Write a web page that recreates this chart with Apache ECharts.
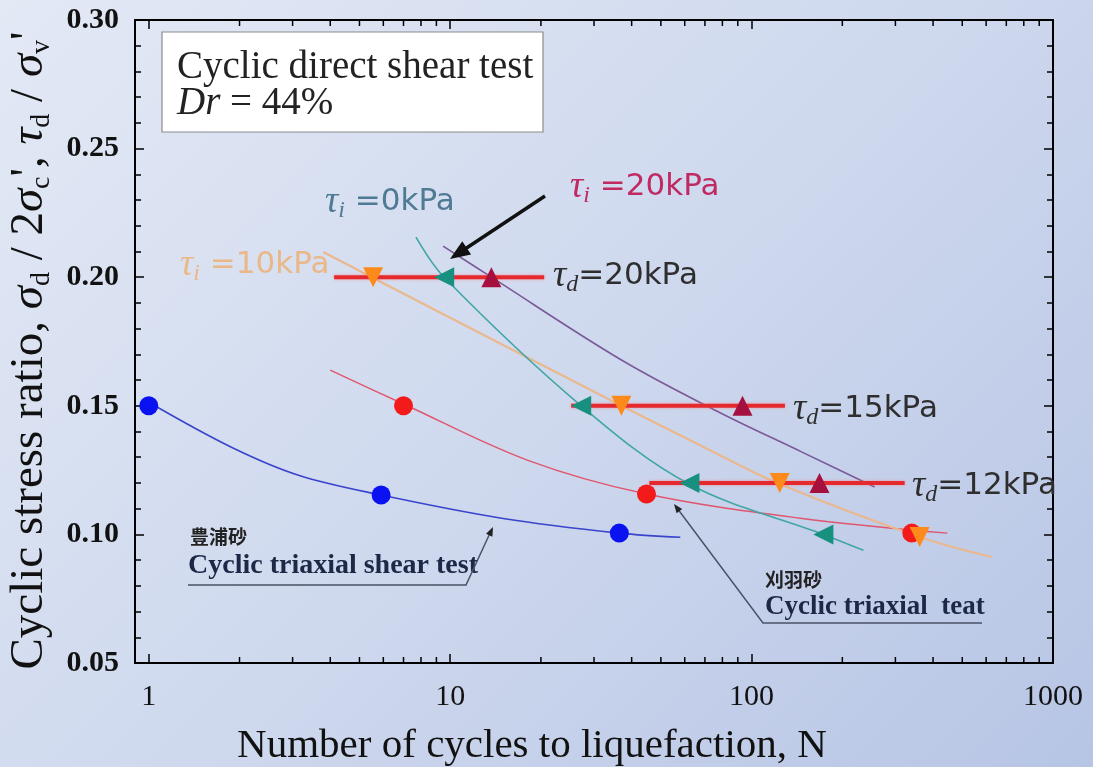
<!DOCTYPE html>
<html><head><meta charset="utf-8">
<script src="https://cdn.jsdelivr.net/npm/echarts@6/dist/echarts.min.js"></script>
<style>
html,body{margin:0;padding:0;}
#c{width:1093px;height:767px;background:linear-gradient(135deg,#e3e9f5 0%,#cfd9ee 50%,#b7c5e5 100%);}
</style>
</head><body><div id="c"></div>
<script>
// ---------- data ----------
const xTickLabels = ['1', '10', '100', '1000'];
const minorTicksN = [2,3,4,5,6,7,8,9,20,30,40,50,60,70,80,90,200,300,400,500,600,700,800,900];

// Toyoura sand, cyclic triaxial shear test (blue)
const toyouraN   = [1.0, 5.9, 36.4];
const toyouraCSR = [0.150, 0.1153, 0.1005];
const toyouraCurveN   = [1.02, 1.88, 3.14, 5.9, 14.8, 36.4, 58];
const toyouraCurveCSR = [0.1508, 0.1339, 0.1230, 0.1153, 0.1063, 0.1005, 0.0989];

// Kariwa sand, cyclic triaxial test (red)
const kariwaN   = [7.0, 44.8, 340];
const kariwaCSR = [0.150, 0.1157, 0.1005];
const kariwaCurveN   = [4.0, 7.0, 18.1, 44.8, 145, 446];
const kariwaCurveCSR = [0.1639, 0.1507, 0.1288, 0.1157, 0.1063, 0.1005];

// Cyclic direct shear, tau_i = 0 kPa (teal)
const tau0N   = [9.55, 27.2, 62.2, 173];
const tau0CSR = [0.200, 0.150, 0.120, 0.100];
const tau0CurveN   = [7.7, 9.55, 27.2, 62.2, 173, 235];
const tau0CurveCSR = [0.2156, 0.200, 0.150, 0.1195, 0.100, 0.0938];

// tau_i = 10 kPa (orange)
const tau10N   = [5.55, 37.0, 124, 361];
const tau10CSR = [0.200, 0.150, 0.120, 0.099];
const tau10CurveN   = [3.79, 5.55, 37.0, 68.2, 124, 361, 627];
const tau10CurveCSR = [0.2098, 0.1997, 0.150, 0.1344, 0.1196, 0.099, 0.0912];

// tau_i = 20 kPa (dark red)
const tau20N   = [13.7, 93.3, 168];
const tau20CSR = [0.200, 0.150, 0.120];
const tau20CurveN   = [9.47, 13.7, 37.0, 77.7, 147, 256];
const tau20CurveCSR = [0.2121, 0.200, 0.1678, 0.1476, 0.132, 0.1184];

// constant tau_d lines
const taud20N = [4.12, 20.5];  const taud20CSR = [0.20, 0.20];
const taud15N = [25.2, 129];   const taud15CSR = [0.15, 0.15];
const taud12N = [45.8, 322];   const taud12CSR = [0.12, 0.12];

const yMin = 0.05, yMax = 0.30, yStep = 0.05;
const xMin = 0.9, xMax = 1000;

// ---------- helpers ----------
const zip = (a, b) => a.map((v, i) => [v, b[i]]);
function curve(n, v, color, width) {
  return { type: 'line', data: zip(n, v), smooth: 0.35, showSymbol: false, symbol: 'none',
    lineStyle: { color: color, width: width }, z: 2, silent: true };
}
function marks(n, v, symbol, rotate, color, size) {
  return { type: 'scatter', data: zip(n, v), symbol: symbol, symbolRotate: rotate, symbolSize: size,
    itemStyle: { color: color, opacity: 1 }, z: 5, silent: true };
}
function tdLine(n, v) {
  return { type: 'line', data: zip(n, v), showSymbol: false, symbol: 'none',
    lineStyle: { color: '#e42a2e', width: 4, shadowColor: 'rgba(255,120,120,0.7)', shadowBlur: 3 }, z: 3, silent: true };
}
function arrowHead(tail, tip, len, half, color) {
  const dx = tip[0] - tail[0], dy = tip[1] - tail[1];
  const L = Math.hypot(dx, dy), ux = dx / L, uy = dy / L;
  const bx = tip[0] - ux * len, by = tip[1] - uy * len;
  return { type: 'polygon', shape: { points: [tip, [bx - uy * half, by + ux * half], [bx + uy * half, by - ux * half]] },
    style: { fill: color }, z: 20 };
}
function tauLabel(x, y, sub, rest, color) {
  return { type: 'text', x: x, y: y, z: 20,
    style: { text: '{t|τ}{s|' + sub + '}{n|' + rest + '}', verticalAlign: 'middle', align: 'left',
      rich: {
        t: { fontFamily: 'Liberation Serif', fontStyle: 'italic', fontSize: 37, fill: color, color: color, lineHeight: 42, verticalAlign: 'middle' },
        s: { fontFamily: 'Liberation Serif', fontStyle: 'italic', fontSize: 24, fill: color, color: color, lineHeight: 42, verticalAlign: 'bottom' },
        n: { fontFamily: 'DejaVu Sans', fontSize: 31, fill: color, color: color, lineHeight: 42, verticalAlign: 'middle' }
      } } };
}

const chart = echarts.init(document.getElementById('c'), null, { renderer: 'canvas' });

const decadeLabel = v => {
  const l = Math.log10(v);
  if (Math.abs(l - Math.round(l)) > 1e-6) return '';
  const i = Math.round(l);
  return xTickLabels[i] !== undefined ? xTickLabels[i] : '';
};

const xBase = {
  type: 'log', logBase: 10, min: xMin, max: xMax,
  axisLine: { show: true, lineStyle: { color: '#000', width: 2 } },
  axisTick: { show: true, inside: true, length: 9, lineStyle: { color: '#000', width: 1.5 } },
  splitLine: { show: false }, minorTick: { show: false }, minorSplitLine: { show: false }
};
const yBase = {
  type: 'value', min: yMin, max: yMax, interval: yStep,
  axisLine: { show: true, lineStyle: { color: '#000', width: 2 } },
  axisTick: { show: true, inside: true, length: 9, lineStyle: { color: '#000', width: 1.5 } },
  minorTick: { show: true, splitNumber: 5, length: 6, lineStyle: { color: '#000', width: 1.5 } },
  splitLine: { show: false }
};

const option = {
  backgroundColor: 'transparent',
  animation: false,
  grid: { left: 135, right: 40, top: 20, bottom: 104, containLabel: false, outerBoundsMode: 'none' },
  xAxis: [
    Object.assign({}, xBase, {
      position: 'bottom',
      axisLabel: { formatter: decadeLabel, showMinLabel: false, fontFamily: 'Liberation Serif', fontSize: 30, color: '#111', margin: 19 },
      name: 'Number of cycles to liquefaction, N', nameLocation: 'middle', nameGap: 63,
      nameTextStyle: { fontFamily: 'Liberation Serif', fontSize: 41, color: '#111', padding: [0, 124, 0, 0] }
    }),
    Object.assign({}, xBase, { position: 'top', axisLabel: { show: false } })
  ],
  yAxis: [
    Object.assign({}, yBase, {
      position: 'left',
      axisLabel: { formatter: v => v.toFixed(2), fontFamily: 'Liberation Serif', fontWeight: 'bold', fontSize: 30, color: '#111', margin: 16 },
      name: "Cyclic stress ratio, {i|σ}{s|d} / 2{i|σ}{s|c}', {i|τ}{s|d} / {i|σ}{s|v}'",
      nameLocation: 'middle', nameRotate: 90, nameGap: 61,
      nameTextStyle: { fontFamily: 'Liberation Serif', fontSize: 47, color: '#111', lineHeight: 52, padding: [0, 18, 0, 0],
        rich: {
          i: { fontFamily: 'Liberation Serif', fontStyle: 'italic', fontSize: 47, color: '#111', lineHeight: 52 },
          s: { fontFamily: 'Liberation Serif', fontSize: 28, color: '#111', lineHeight: 52, verticalAlign: 'bottom' }
        } }
    }),
    Object.assign({}, yBase, { position: 'right', axisLabel: { show: false } })
  ],
  series: [
    curve(toyouraCurveN, toyouraCurveCSR, '#3a44cc', 1.6),
    curve(kariwaCurveN, kariwaCurveCSR, '#e0566e', 1.4),
    curve(tau10CurveN, tau10CurveCSR, '#eab88e', 2.2),
    curve(tau0CurveN, tau0CurveCSR, '#3fa6a6', 1.6),
    curve(tau20CurveN, tau20CurveCSR, '#7a5a98', 1.6),
    tdLine(taud20N, taud20CSR),
    tdLine(taud15N, taud15CSR),
    tdLine(taud12N, taud12CSR),
    marks(toyouraN, toyouraCSR, 'circle', 0, '#0a12f2', 19),
    marks(kariwaN, kariwaCSR, 'circle', 0, '#f21a1a', 19),
    marks(tau0N, tau0CSR, 'triangle', 90, '#17907f', 20),
    marks(tau10N, tau10CSR, 'triangle', 180, '#ff8a1c', 20),
    marks(tau20N, tau20CSR, 'triangle', 0, '#a5103e', 20),
    {
      type: 'custom', data: minorTicksN.map(n => [n, yMin]), z: 6, silent: true, clip: false,
      encode: { x: 0, y: 1 },
      renderItem: function (params, api) {
        const n = api.value(0);
        const b = api.coord([n, yMin]);
        const t = api.coord([n, yMax]);
        const st = { stroke: '#000', lineWidth: 1.5 };
        return { type: 'group', children: [
          { type: 'line', shape: { x1: b[0], y1: b[1], x2: b[0], y2: b[1] - 6 }, style: st },
          { type: 'line', shape: { x1: t[0], y1: t[1], x2: t[0], y2: t[1] + 6 }, style: st }
        ] };
      }
    }
  ],
  graphic: [
    // legend box
    { type: 'rect', shape: { x: 162, y: 32, width: 381, height: 100 }, style: { fill: '#ffffff', stroke: '#8c8c8c', lineWidth: 1.2 }, z: 10 },
    { type: 'text', x: 177, y: 68, z: 11, style: { text: 'Cyclic direct shear test', fontFamily: 'Liberation Serif', fontSize: 39, fill: '#222', verticalAlign: 'middle' } },
    { type: 'text', x: 177, y: 104, z: 11, style: { text: '{i|Dr}{n| = 44%}', verticalAlign: 'middle',
      rich: { i: { fontFamily: 'Liberation Serif', fontStyle: 'italic', fontSize: 39, fill: '#222' },
              n: { fontFamily: 'Liberation Serif', fontSize: 39, fill: '#222' } } } },
    // tau labels
    tauLabel(325, 202, 'i', ' =0kPa', '#4f7a93'),
    tauLabel(570, 187, 'i', ' =20kPa', '#c02a62'),
    tauLabel(180, 265, 'i', ' =10kPa', 'rgba(240,170,100,0.75)'),
    tauLabel(553, 276, 'd', '=20kPa', '#2e2e2e'),
    tauLabel(793, 409, 'd', '=15kPa', '#2e2e2e'),
    tauLabel(912, 486, 'd', '=12kPa', '#2e2e2e'),
    // black arrow to tau_i = 20 kPa curve
    { type: 'line', shape: { x1: 545, y1: 196, x2: 462, y2: 251 }, style: { stroke: '#111', lineWidth: 3.5 }, z: 20 },
    arrowHead([545, 196], [450, 259], 20, 8, '#111'),
    // Toyoura annotation
    { type: 'text', x: 190, y: 537, z: 20, style: { text: '豊浦砂', fontFamily: 'Noto Sans CJK JP', fontWeight: 'bold', fontSize: 19, fill: '#222', verticalAlign: 'middle' } },
    { type: 'text', x: 188, y: 566, z: 20, style: { text: 'Cyclic triaxial shear test', fontFamily: 'Liberation Serif', fontWeight: 'bold', fontSize: 28, fill: '#1c2846', verticalAlign: 'middle' } },
    { type: 'polyline', shape: { points: [[188, 585], [466, 585], [491, 531]] }, style: { stroke: '#4a5266', lineWidth: 1.5, fill: null }, z: 20 },
    arrowHead([466, 585], [493, 527], 9, 3.5, '#222'),
    // Kariwa annotation
    { type: 'text', x: 765, y: 580, z: 20, style: { text: '刈羽砂', fontFamily: 'Noto Sans CJK JP', fontWeight: 'bold', fontSize: 19, fill: '#222', verticalAlign: 'middle' } },
    { type: 'text', x: 765, y: 607, z: 20, style: { text: 'Cyclic triaxial  teat', fontFamily: 'Liberation Serif', fontWeight: 'bold', fontSize: 27, fill: '#1c2846', verticalAlign: 'middle' } },
    { type: 'polyline', shape: { points: [[982, 623], [763, 623], [677, 508]] }, style: { stroke: '#4a5266', lineWidth: 1.5, fill: null }, z: 20 },
    arrowHead([763, 623], [674, 504], 9, 3.5, '#222')
  ]
};
chart.setOption(option);
</script>
</body></html>
